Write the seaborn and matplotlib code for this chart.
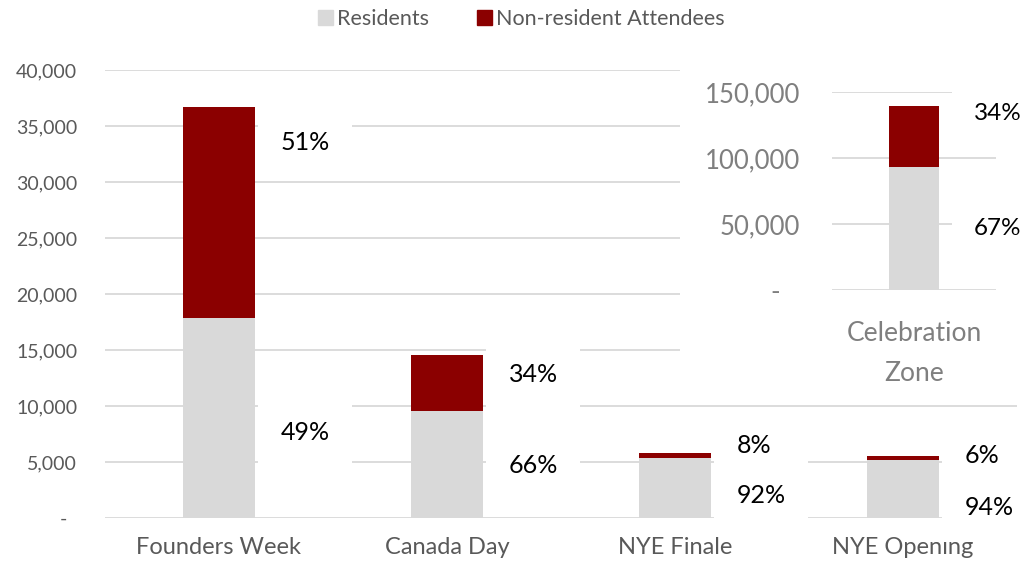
import pandas as pd
import matplotlib.pyplot as plt
import seaborn as sns
from matplotlib.patches import Patch, Rectangle
from matplotlib.ticker import FuncFormatter

# Dados do gráfico principal
events = ['Founders Week', 'Canada Day', 'NYE Finale', 'NYE Opening']
residents = [17900, 9600, 5350, 5200]
non_residents = [18800, 4950, 450, 330]
res_pct = ['49%', '66%', '92%', '94%']
nonres_pct = ['51%', '34%', '8%', '6%']

# Dados do gráfico inserido (Celebration Zone)
cz_event = ['Celebration\nZone']
cz_residents = [93000]
cz_non_residents = [46500]
cz_res_pct = ['67%']
cz_nonres_pct = ['34%']

# posições dos rótulos (em unidades de dados)
res_label_y = [7600, 4700, 2050, 900]
nonres_label_y = [33500, 12800, 6500, 5600]
cz_res_label_y = [46800]
cz_nonres_label_y = [133700]

RED = '#8B0000'
GREY = '#D9D9D9'
TXT = '#595959'

sns.set_theme(style='white')
plt.rcParams['font.family'] = ['Lato', 'DejaVu Sans']

df = pd.DataFrame({'event': events, 'residents': residents, 'non_residents': non_residents})
df['total'] = df['residents'] + df['non_residents']

fig = plt.figure(figsize=(10.24, 5.67), dpi=100)
ax = fig.add_axes([0.1025, 0.0864, 0.8906, 0.790])

sns.barplot(data=df, x='event', y='total', color=RED, saturation=1, width=0.315,
            linewidth=0, ax=ax, zorder=3)
sns.barplot(data=df, x='event', y='residents', color=GREY, saturation=1, width=0.315,
            linewidth=0, ax=ax, zorder=3)

ax.set_ylim(0, 40000)
ax.set_xlim(-0.5, 3.5)
ax.set_yticks(range(0, 40001, 5000))
ax.yaxis.set_major_formatter(FuncFormatter(lambda v, p: '-  ' if v == 0 else f'{v:,.0f}'))
ax.grid(axis='y', color=GREY, linewidth=1.3)
ax.set_axisbelow(True)
ax.set_xlabel('')
ax.set_ylabel('')
for s in ax.spines.values():
    s.set_visible(False)
ax.tick_params(axis='y', length=0, labelsize=14, labelcolor=TXT, pad=20)
ax.tick_params(axis='x', length=0, labelsize=17, labelcolor=TXT, pad=14)

# rótulos de percentagem com fundo branco (cortam as linhas de grade como no original)
box = dict(boxstyle='square,pad=0.9', fc='white', ec='none')
for i in range(len(events)):
    ax.text(i + 0.27, nonres_label_y[i], nonres_pct[i], ha='left', va='center',
            fontsize=18, color='black', bbox=box, zorder=1)
    ax.text(i + 0.27, res_label_y[i], res_pct[i], ha='left', va='center',
            fontsize=18, color='black', bbox=box, zorder=1)

# fundo branco do gráfico inserido
fig.patches.append(Rectangle((0.664, 0.291), 0.336, 0.607, transform=fig.transFigure,
                             fc='white', ec='none', zorder=1))

ins = fig.add_axes([0.8125, 0.4885, 0.160, 0.349])
ins.set_zorder(2)
cz = pd.DataFrame({'event': cz_event, 'residents': cz_residents, 'non_residents': cz_non_residents})
cz['total'] = cz['residents'] + cz['non_residents']
sns.barplot(data=cz, x='event', y='total', color=RED, saturation=1, width=0.305,
            linewidth=0, ax=ins, zorder=3)
sns.barplot(data=cz, x='event', y='residents', color=GREY, saturation=1, width=0.305,
            linewidth=0, ax=ins, zorder=3)
ins.set_ylim(0, 150000)
ins.set_xlim(-0.5, 0.5)
ins.set_yticks([0, 50000, 100000, 150000])
ins.yaxis.set_major_formatter(FuncFormatter(lambda v, p: '-   ' if v == 0 else f'{v:,.0f}'))
ins.grid(axis='y', color=GREY, linewidth=1.3)
ins.set_axisbelow(True)
ins.set_xlabel('')
ins.set_ylabel('')
for s in ins.spines.values():
    s.set_visible(False)
ins.tick_params(axis='y', length=0, labelsize=18.5, labelcolor='#7F7F7F', pad=23)
ins.tick_params(axis='x', length=0, labelsize=19, labelcolor='#7F7F7F', pad=22)
for t in ins.get_xticklabels():
    t.set_linespacing(1.75)
ins.text(0.365, cz_nonres_label_y[0], cz_nonres_pct[0], ha='left', va='center',
         fontsize=17.5, color='black', bbox=box, zorder=1, clip_on=False)
ins.text(0.365, cz_res_label_y[0], cz_res_pct[0], ha='left', va='center',
         fontsize=17.5, color='black', bbox=box, zorder=1, clip_on=False)

handles = [Patch(color=GREY, label='Residents'), Patch(color=RED, label='Non-resident Attendees')]
fig.legend(handles=handles, loc='center', bbox_to_anchor=(0.509, 0.966), ncol=2, frameon=False,
           fontsize=15.5, labelcolor=TXT, handlelength=0.7, handleheight=0.7,
           handletextpad=0.2, columnspacing=2.2)

fig.savefig('out.png', dpi=100)
